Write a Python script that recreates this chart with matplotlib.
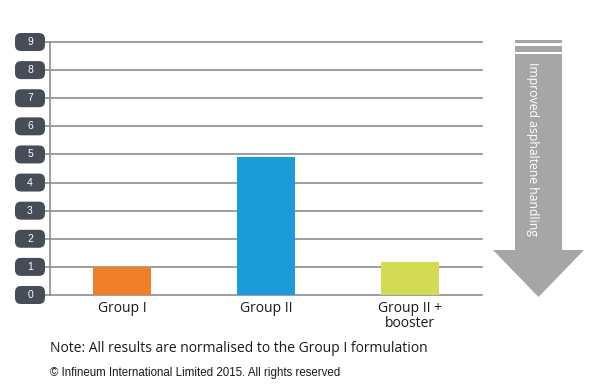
import matplotlib
matplotlib.use("Agg")
import matplotlib.pyplot as plt
from matplotlib.patches import FancyBboxPatch, Polygon, Rectangle
from matplotlib.transforms import IdentityTransform

# data
groups = ["Group I", "Group II", "Group II +\nbooster"]
values = [1.0, 4.92, 1.18]
bar_colors = ["#F07F2A", "#1A9CD9", "#D3DB55"]
yticks = list(range(0, 10))

grid_col = "#8A8E95"
box_col = "#474D57"
arrow_col = "#A6A6A6"
txt_col = "#1A1A1A"

fig = plt.figure(figsize=(5.99, 3.89), dpi=100)
W, H = 599, 389
# axes: x 50..482 px, y 42..295 px (from top)
ax = fig.add_axes([50 / W, (H - 295) / H, 432 / W, 253 / H])

ax.bar(range(len(groups)), values, width=0.4, color=bar_colors, zorder=3)
ax.set_xlim(-0.5, 2.5)
ax.set_ylim(0, 9)

for v in yticks:
    ax.axhline(v, color=grid_col, lw=1.2, zorder=1, clip_on=False)

for s in ["top", "right", "bottom"]:
    ax.spines[s].set_visible(False)
ax.spines["left"].set_color(grid_col)
ax.spines["left"].set_linewidth(1.2)

ax.set_yticks(yticks)
ax.set_yticklabels([])
ax.tick_params(axis="y", length=5, color=grid_col, width=1.2)
ax.set_xticks(range(len(groups)))
ax.set_xticklabels(groups, fontsize=10, family="Open Sans", color=txt_col,
                   linespacing=1.0)
ax.tick_params(axis="x", length=0, pad=4)

# rounded tick boxes
fig.canvas.draw()
for v in yticks:
    ypix = ax.transData.transform((0, v))[1]
    box = FancyBboxPatch((15, ypix - 9), 30, 18,
                         boxstyle="round,pad=0,rounding_size=6",
                         fc=box_col, ec="none", transform=IdentityTransform())
    fig.add_artist(box)
    fig.text(30 / W, ypix / H, str(v), color="white", fontsize=7.5,
             family="Liberation Sans", ha="center", va="center")

# arrow on the right (pixel coords, y from top)
def P(x, y):
    return (x, H - y)

def add_rect(x0, y0, x1, y1):
    fig.add_artist(Rectangle(P(x0, y1), x1 - x0, y1 - y0, fc=arrow_col,
                             ec="none", transform=IdentityTransform()))

add_rect(515, 40, 562, 43)
add_rect(515, 46, 562, 52)
arrow = Polygon([P(515, 54), P(562, 54), P(562, 250), P(584, 250),
                 P(538.5, 297), P(493, 250), P(515, 250)],
                closed=True, fc=arrow_col, ec="none",
                transform=IdentityTransform())
fig.add_artist(arrow)
fig.text(533 / W, (H - 62) / H, "Improved asphaltene handling", rotation=-90,
         color="white", fontsize=8.85, family="Open Sans",
         ha="center", va="top")

fig.text(50 / W, (H - 348) / H,
         "Note: All results are normalised to the Group I formulation",
         fontsize=10, family="Open Sans", color=txt_col, va="center")
fig.text(50 / W, (H - 373) / H,
         "\u00a9 Infineum International Limited 2015. All rights reserved",
         fontsize=8.3, family="Liberation Sans", color=txt_col, va="center")

fig.savefig("out.png", dpi=100)
